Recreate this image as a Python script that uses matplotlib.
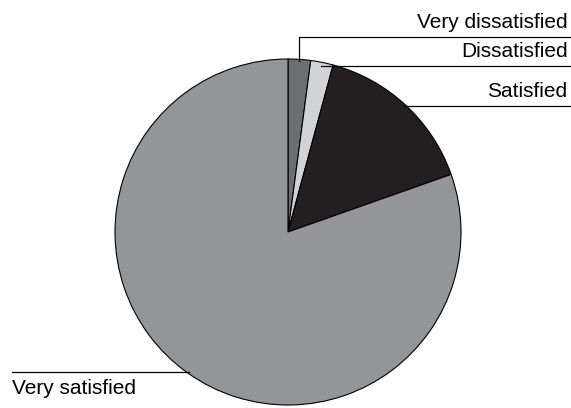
import numpy as np
import matplotlib.pyplot as plt

# satisfaction shares (percent)
labels = ["Very dissatisfied", "Dissatisfied", "Satisfied", "Very satisfied"]
values = [2.1, 2.1, 15.4, 80.4]
colors = ["#6d6e71", "#d1d3d4", "#231f20", "#939598"]

plt.rcParams['font.family'] = ['Liberation Sans', 'DejaVu Sans']

fig = plt.figure(figsize=(5.71, 4.08), dpi=100)
W, H = 571, 408
cx, cy, r = 288, 232, 173
ax = fig.add_axes([(cx - r) / W, (H - cy - r) / H, 2 * r / W, 2 * r / H])

wedges, _ = ax.pie(values, colors=colors, startangle=90, counterclock=False,
                   wedgeprops=dict(edgecolor='black', linewidth=0.8))
ax.set_xlim(-1, 1)
ax.set_ylim(-1, 1)
ax.set_aspect('equal')
ax.axis('off')

# right edge / left edge of figure in data units
x_right = (W - cx) / r
x_left = (12 - cx) / r

def mid(w):
    a = np.deg2rad((w.theta1 + w.theta2) / 2)
    return np.cos(a), np.sin(a)

lk = dict(color='black', lw=0.9, clip_on=False)
fs = 15

# Very dissatisfied: up then right
mx, my = mid(wedges[0])
ytop = (cy - 37) / r
ax.plot([mx, mx, x_right], [my * 0.99, ytop, ytop], **lk)
ax.text(x_right - 0.02, ytop + 0.03, labels[0], ha='right', va='bottom', fontsize=fs)

# Dissatisfied
mx, my = mid(wedges[1])
y1 = my * 0.98
ax.plot([mx * 0.98, x_right], [y1, y1], **lk)
ax.text(x_right - 0.02, y1 + 0.03, labels[1], ha='right', va='bottom', fontsize=fs)

# Satisfied
mx, my = mid(wedges[2])
y2 = my * 0.99
ax.plot([mx * 0.99, x_right], [y2, y2], **lk)
ax.text(x_right - 0.02, y2 + 0.03, labels[2], ha='right', va='bottom', fontsize=fs)

# Very satisfied
mx, my = mid(wedges[3])
y3 = my * 0.99
ax.plot([x_left, mx * 0.99], [y3, y3], **lk)
ax.text(x_left, y3 - 0.04, labels[3], ha='left', va='top', fontsize=fs)

fig.savefig("out.png", dpi=100)
